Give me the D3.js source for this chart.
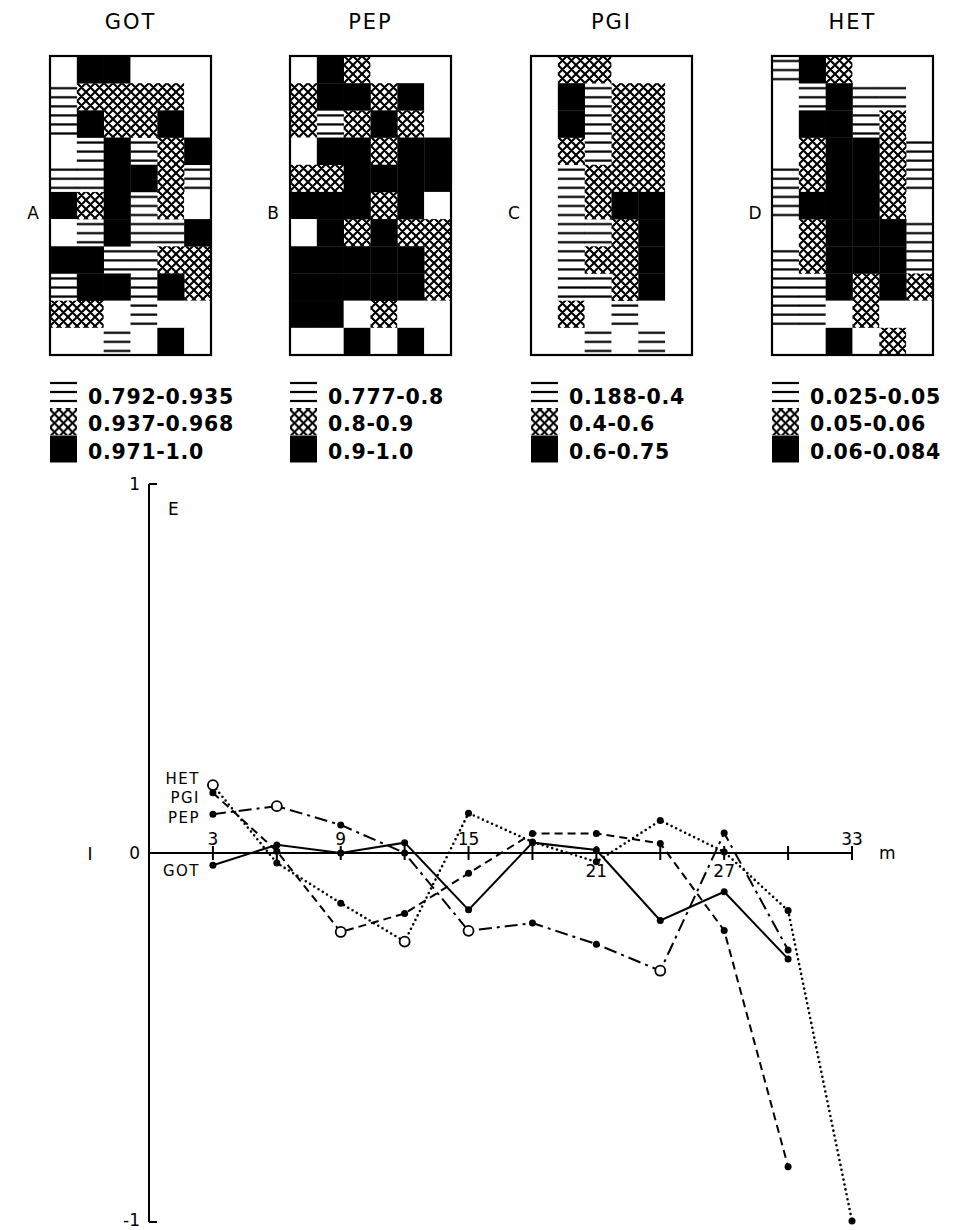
<!DOCTYPE html>
<html>
<head>
<meta charset="utf-8">
<script src="https://cdn.jsdelivr.net/npm/d3@7"></script>
<style>
  body { margin: 0; background: #fff; }
  svg { display: block; font-family: 'DejaVu Sans', sans-serif; }
</style>
</head>
<body>
<svg id="chart" width="953" height="1230"></svg>
<script>
const panelNames = ['GOT', 'PEP', 'PGI', 'HET'];
const panelLetters = ['A', 'B', 'C', 'D'];

// map cells, one string per row: 0 = blank, 1 = lines, 2 = cross-hatch, 3 = solid
const gotGrid = ['033000', '122220', '132230', '013123', '113321', '323120',
  '013113', '331122', '133132', '220100', '001030'];
const pepGrid = ['032000', '233230', '212320', '033233', '223333', '333230',
  '032322', '333332', '333332', '330200', '003030'];
const pgiGrid = ['022000', '031220', '031220', '021220', '012220', '012330',
  '011230', '012230', '011230', '020100', '001010'];
const hetGrid = ['132000', '013110', '033120', '023321', '123321', '133320',
  '023331', '123331', '113232', '110200', '003020'];

const gotClasses = ['0.792-0.935', '0.937-0.968', '0.971-1.0'];
const pepClasses = ['0.777-0.8', '0.8-0.9', '0.9-1.0'];
const pgiClasses = ['0.188-0.4', '0.4-0.6', '0.6-0.75'];
const hetClasses = ['0.025-0.05', '0.05-0.06', '0.06-0.084'];

// correlogram (E): Moran's I against distance class m
const distances = [3, 6, 9, 12, 15, 18, 21, 24, 27, 30, 33];
const xTicks = [3, 6, 9, 12, 15, 18, 21, 24, 27, 30, 33];
const xLabelsAbove = [3, 9, 15, 33];
const xLabelsBelow = [21, 27];
const gotI = [-0.033, 0.022, 0.0, 0.028, -0.154, 0.028, 0.008, -0.183, -0.105, -0.287];
const pepI = [0.105, 0.127, 0.076, 0.0, -0.211, -0.190, -0.247, -0.319, 0.054, -0.263];
const pgiI = [0.163, 0.005, -0.214, -0.164, -0.055, 0.053, 0.053, 0.026, -0.210, -0.85];
const hetI = [0.184, -0.027, -0.136, -0.240, 0.108, 0.03, -0.024, 0.088, 0.003, -0.156, -0.997];
const pepOpen = [6, 15, 24];
const pgiOpen = [9];
const hetOpen = [3, 12];

const svg = d3.select('#chart');
const defs = svg.append('defs');

// hatch patterns
const linePat = defs.append('pattern')
  .attr('id', 'lines')
  .attr('patternUnits', 'userSpaceOnUse')
  .attr('width', 9).attr('height', 299 / 33);
linePat.append('line')
  .attr('x1', 0).attr('x2', 9)
  .attr('y1', 5).attr('y2', 5)
  .attr('stroke', '#000').attr('stroke-width', 2.2);

const crossPat = defs.append('pattern')
  .attr('id', 'cross')
  .attr('patternUnits', 'userSpaceOnUse')
  .attr('width', 9).attr('height', 9);
crossPat.append('path')
  .attr('d', 'M0,0L9,9M9,0L0,9M-1,8L1,10M8,-1L10,1')
  .attr('stroke', '#000').attr('stroke-width', 2.1)
  .attr('fill', 'none');

const fills = ['#fff', 'url(#lines)', 'url(#cross)', '#000'];

// ---- map panels ----
const grids = [gotGrid, pepGrid, pgiGrid, hetGrid];
const classes = [gotClasses, pepClasses, pgiClasses, hetClasses];
const panelX = [50, 290, 531, 772];
const boxW = 161, boxH = 299, boxTop = 56;

const colScale = d3.scaleBand().domain(d3.range(6)).range([0, boxW]);
const rowScale = d3.scaleBand().domain(d3.range(11)).range([0, boxH]);

grids.forEach((grid, p) => {
  const g = svg.append('g').attr('transform', `translate(${panelX[p]},${boxTop})`);
  const cells = [];
  grid.forEach((row, r) => {
    row.split('').forEach((v, c) => cells.push({ r, c, v: +v }));
  });

  g.selectAll('.cell')
    .data(cells)
    .enter()
    .append('rect')
    .attr('class', 'cell')
    .attr('x', d => colScale(d.c))
    .attr('y', d => rowScale(d.r))
    .attr('width', colScale.bandwidth() + 0.3)
    .attr('height', rowScale.bandwidth() + 0.3)
    .attr('fill', d => fills[d.v]);

  g.append('rect')
    .attr('width', boxW).attr('height', boxH)
    .attr('fill', 'none').attr('stroke', '#000').attr('stroke-width', 2.2);

  svg.append('text')
    .attr('x', panelX[p] + boxW / 2).attr('y', 29)
    .attr('text-anchor', 'middle')
    .attr('font-size', 21).attr('letter-spacing', 2)
    .text(panelNames[p]);

  svg.append('text')
    .attr('x', panelX[p] - 17).attr('y', 219)
    .attr('text-anchor', 'middle')
    .attr('font-size', 17)
    .text(panelLetters[p]);

  // legend: swatches stacked under the map
  const lg = svg.append('g').attr('transform', `translate(${panelX[p]},382)`);
  classes[p].forEach((label, i) => {
    const row = lg.append('g').attr('transform', `translate(0,${i * 27.5})`);
    if (i === 0) {
      [1, 10, 19].forEach(yy => {
        row.append('line').attr('x1', 0).attr('x2', 27)
          .attr('y1', yy).attr('y2', yy)
          .attr('stroke', '#000').attr('stroke-width', 2.2);
      });
    } else {
      row.append('rect').attr('y', -1.5).attr('width', 27).attr('height', 27)
        .attr('fill', fills[i + 1]);
    }
    row.append('text')
      .attr('x', 38).attr('y', 21.5)
      .attr('font-size', 20.5).attr('font-weight', 'bold')
      .attr('letter-spacing', 0.7)
      .text(label);
  });
});

// ---- correlogram ----
const x = d3.scaleLinear().domain([0, 33]).range([149, 852]);
const y = d3.scaleLinear().domain([-1, 1]).range([1222, 484]);

const axisG = svg.append('g').attr('stroke', '#000').attr('stroke-width', 2);
axisG.append('line')
  .attr('x1', x(0)).attr('x2', x(0))
  .attr('y1', y(1)).attr('y2', y(-1));
axisG.append('line')
  .attr('x1', x(0)).attr('x2', x(0) + 8)
  .attr('y1', y(1)).attr('y2', y(1));
axisG.append('line')
  .attr('x1', x(0)).attr('x2', x(0) + 8)
  .attr('y1', y(-1)).attr('y2', y(-1));
axisG.append('line')
  .attr('x1', x(0)).attr('x2', x(33))
  .attr('y1', y(0)).attr('y2', y(0));
axisG.selectAll('.tick')
  .data(xTicks)
  .enter()
  .append('line')
  .attr('x1', d => x(d)).attr('x2', d => x(d))
  .attr('y1', y(0) - 7).attr('y2', y(0) + 7);

const txt = svg.append('g').attr('font-size', 17);
txt.selectAll('.above')
  .data(xLabelsAbove)
  .enter()
  .append('text')
  .attr('x', d => x(d)).attr('y', y(0) - 8)
  .attr('text-anchor', 'middle')
  .text(d => d);
txt.selectAll('.below')
  .data(xLabelsBelow)
  .enter()
  .append('text')
  .attr('x', d => x(d)).attr('y', y(0) + 24)
  .attr('text-anchor', 'middle')
  .text(d => d);
txt.append('text').attr('x', x(33) + 27).attr('y', y(0) + 6).text('m');
txt.append('text').attr('x', x(0) - 9).attr('y', y(0) + 6)
  .attr('text-anchor', 'end').text('0');
txt.append('text').attr('x', 90).attr('y', y(0) + 7)
  .attr('text-anchor', 'middle').text('I');
txt.append('text').attr('x', x(0) - 9).attr('y', y(1) + 6)
  .attr('text-anchor', 'end').text('1');
txt.append('text').attr('x', x(0) - 9).attr('y', y(-1) + 4)
  .attr('text-anchor', 'end').text('-1');
txt.append('text').attr('x', 168).attr('y', y(1) + 31).text('E');

const series = [
  { name: 'GOT', values: gotI, dash: null, open: [], labelDy: 5 },
  { name: 'PEP', values: pepI, dash: '13,5,3,5', open: pepOpen, labelDy: 3 },
  { name: 'PGI', values: pgiI, dash: '8,5', open: pgiOpen, labelDy: 4 },
  { name: 'HET', values: hetI, dash: '0,5', open: hetOpen, labelDy: -7 }
];

const line = d3.line()
  .x((d, i) => x(distances[i]))
  .y(d => y(d));

series.forEach(s => {
  svg.append('path')
    .datum(s.values)
    .attr('d', line)
    .attr('fill', 'none')
    .attr('stroke', '#000')
    .attr('stroke-width', s.dash === '0,5' ? 2.6 : 2)
    .attr('stroke-linecap', s.dash === '0,5' ? 'round' : 'butt')
    .attr('stroke-dasharray', s.dash);
});

series.forEach(s => {
  const pts = s.values.map((v, i) => ({ m: distances[i], v }));
  svg.append('g').selectAll('circle')
    .data(pts)
    .enter()
    .append('circle')
    .attr('cx', d => x(d.m))
    .attr('cy', d => y(d.v))
    .attr('r', d => s.open.includes(d.m) ? 5 : 3.5)
    .attr('fill', d => s.open.includes(d.m) ? '#fff' : '#000')
    .attr('stroke', '#000')
    .attr('stroke-width', d => s.open.includes(d.m) ? 1.8 : 0);

  svg.append('text')
    .attr('x', 200).attr('y', y(s.values[0]) + s.labelDy + 6)
    .attr('text-anchor', 'end')
    .attr('font-size', 15).attr('letter-spacing', 1.5)
    .text(s.name);
});
</script>
</body>
</html>
